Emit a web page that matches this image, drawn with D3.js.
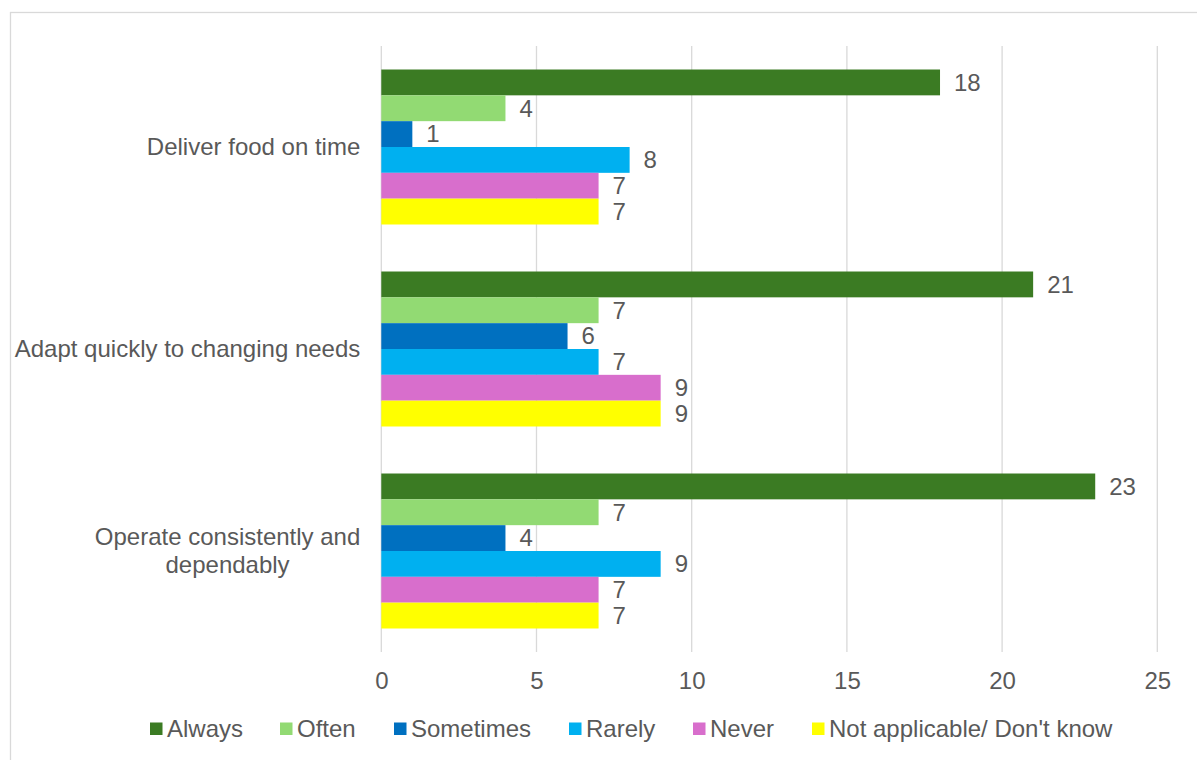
<!DOCTYPE html>
<html>
<head>
<meta charset="utf-8">
<script src="https://cdn.jsdelivr.net/npm/d3@7"></script>
<style>
  html, body { margin: 0; padding: 0; background: #fff; }
  svg { display: block; font-family: "Liberation Sans", Arial, sans-serif; }
</style>
</head>
<body>
<svg id="chart" width="1197" height="760"></svg>
<script>
// Survey statements (top to bottom) and response categories
const categories = [
  "Deliver food on time",
  "Adapt quickly to changing needs",
  "Operate consistently and dependably"
];
const seriesNames = ["Always", "Often", "Sometimes", "Rarely", "Never", "Not applicable/ Don't know"];
const seriesColors = ["#3B7B23", "#92DA73", "#0070C0", "#00B0F0", "#D86ECC", "#FFFF00"];

// Response counts per statement, in series order
const always        = [18, 21, 23];
const often         = [4, 7, 7];
const sometimes     = [1, 6, 4];
const rarely        = [8, 7, 9];
const never         = [7, 9, 7];
const notApplicable = [7, 9, 7];

const tickValues = [0, 5, 10, 15, 20, 25];

const seriesValues = [always, often, sometimes, rarely, never, notApplicable];
const rows = categories.map((c, i) => ({
  category: c,
  values: seriesNames.map((s, j) => ({ series: s, value: seriesValues[j][i], color: seriesColors[j] }))
}));

const svg = d3.select("#chart");
const textColor = "#595959";
const gridColor = "#D9D9D9";
const fontSize = 24;

// Outer chart frame (runs past the right and bottom edges)
svg.append("rect")
  .attr("x", 10.5).attr("y", 12.5)
  .attr("width", 1220).attr("height", 800)
  .attr("fill", "none")
  .attr("stroke", gridColor)
  .attr("stroke-width", 1.3);

const plot = { left: 381.3, right: 1157.3, top: 46, bottom: 652 };

const x = d3.scaleLinear().domain([0, 25]).range([plot.left, plot.right]);
const y = d3.scaleBand().domain(categories)
  .range([plot.top, plot.bottom])
  .paddingInner(0.2327).paddingOuter(0.2327 / 2);
const ySeries = d3.scaleBand().domain(seriesNames).range([0, y.bandwidth()]).padding(0);

// Vertical gridlines
svg.append("g")
  .selectAll("line")
  .data(tickValues)
  .join("line")
  .attr("x1", d => x(d)).attr("x2", d => x(d))
  .attr("y1", plot.top).attr("y2", plot.bottom)
  .attr("stroke", gridColor)
  .attr("stroke-width", 1.3);

// X axis tick labels
const xAxis = d3.axisBottom(x).tickValues(tickValues).tickSize(0).tickPadding(0);
const xg = svg.append("g")
  .attr("transform", `translate(0,${plot.bottom})`)
  .call(xAxis);
xg.select(".domain").remove();
xg.selectAll("text")
  .attr("y", 37)
  .attr("dy", 0)
  .attr("fill", textColor)
  .style("font-size", fontSize + "px")
  .style("font-family", "Liberation Sans, Arial, sans-serif");

// Bars grouped by statement
const groups = svg.append("g")
  .selectAll("g")
  .data(rows)
  .join("g")
  .attr("transform", d => `translate(0,${y(d.category)})`);

groups.selectAll("rect")
  .data(d => d.values)
  .join("rect")
  .attr("x", x(0))
  .attr("y", d => ySeries(d.series))
  .attr("width", d => x(d.value) - x(0))
  .attr("height", ySeries.bandwidth())
  .attr("fill", d => d.color);

// Value labels at the end of each bar
groups.selectAll("text.value")
  .data(d => d.values)
  .join("text")
  .attr("class", "value")
  .attr("x", d => x(d.value) + 14)
  .attr("y", d => ySeries(d.series) + ySeries.bandwidth() / 2)
  .attr("dy", "0.35em")
  .attr("fill", textColor)
  .style("font-size", fontSize + "px")
  .text(d => d.value);

// Statement labels, wrapped where the text is long
const wrapped = {
  "Operate consistently and dependably": ["Operate consistently and", "dependably"]
};
const catLabels = svg.append("g")
  .selectAll("text")
  .data(categories)
  .join("text")
  .attr("fill", textColor)
  .style("font-size", fontSize + "px")
  .attr("text-anchor", "end");

catLabels.each(function (d) {
  const t = d3.select(this);
  const lines = wrapped[d] || [d];
  const cy = y(d) + y.bandwidth() / 2;
  const lineH = 28;
  if (lines.length === 1) {
    t.attr("x", plot.left - 21).attr("y", cy).attr("dy", "0.35em").text(d);
  } else {
    // centre-align the lines within a block whose right edge sits next to the axis
    const tmp = svg.append("text").style("font-size", fontSize + "px").text(lines[0]);
    const w = tmp.node().getComputedTextLength();
    tmp.remove();
    const cx = plot.left - 21 - w / 2;
    t.attr("text-anchor", "middle");
    lines.forEach((ln, k) => {
      t.append("tspan")
        .attr("x", cx)
        .attr("y", cy + (k - (lines.length - 1) / 2) * lineH)
        .attr("dy", "0.35em")
        .text(ln);
    });
  }
});

// Legend
const legendX = [150, 280, 394, 569, 693, 812];
const legend = svg.append("g")
  .selectAll("g")
  .data(seriesNames)
  .join("g")
  .attr("transform", (d, i) => `translate(${legendX[i]},729)`);
legend.append("rect")
  .attr("x", 0).attr("y", -6.5)
  .attr("width", 12.5).attr("height", 12.5)
  .attr("fill", (d, i) => seriesColors[i]);
legend.append("text")
  .attr("x", 17)
  .attr("y", 0)
  .attr("dy", "0.35em")
  .attr("fill", textColor)
  .style("font-size", fontSize + "px")
  .text(d => d);
</script>
</body>
</html>
